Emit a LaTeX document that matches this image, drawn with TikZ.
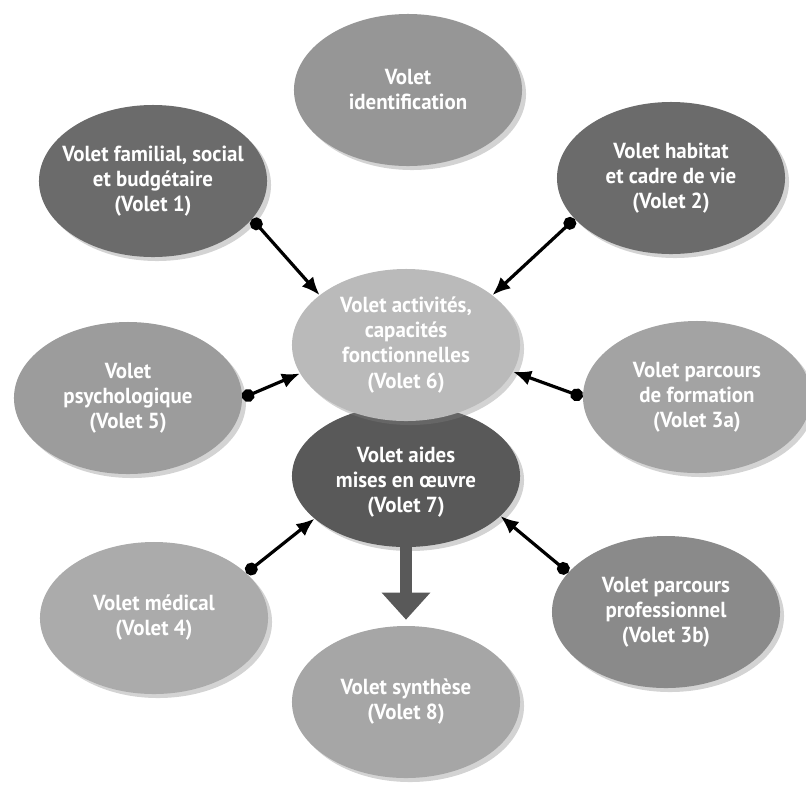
\documentclass[tikz,border=0pt]{standalone}
\usepackage{fontspec}
\setmainfont{PT Sans}[FakeStretch=0.96]
\usetikzlibrary{shapes.geometric,arrows.meta,shadows}

\begin{document}
\begin{tikzpicture}[x=0.025cm, y=-0.025cm]
    \tikzstyle{volet} = [ellipse, minimum width=5.7cm, minimum height=3.8cm, inner sep=0pt, drop shadow={shadow xshift=0.1cm, shadow yshift=-0.1cm, opacity=0.35}]
    \tikzstyle{txt} = [align=center, text=white, font=\bfseries\fontsize{15.5}{17.8}\selectfont]
    \tikzstyle{link} = [line width=0.08cm, {Circle[length=0.32cm]}-{Latex[length=0.45cm, width=0.38cm]}]
    \tikzstyle{flow} = [line width=0.32cm, draw=black!65, shorten >=0.15cm, -{Triangle[length=0.68cm, width=1.18cm]}]
    \useasboundingbox (0,0) rectangle (806,785);

    % outer ring
    \node (ident) [volet, fill=black!41, label={[txt]center:{Volet\\identification}}] at (408,90) {};
    \node (famil) [volet, fill=black!58, label={[txt]center:{Volet familial, social\\et budgétaire\\(Volet 1)}}] at (153,181) {};
    \node (habit) [volet, fill=black!58, label={[txt]center:{Volet habitat\\et cadre de vie\\(Volet 2)}}] at (671,178) {};
    \node (psych) [volet, fill=black!39, label={[txt]center:{Volet\\psychologique\\(Volet 5)}}] at (128,398) {};
    \node (forma) [volet, fill=black!36, label={[txt]center:{Volet parcours\\de formation\\(Volet 3a)}}] at (697,397) {};

    % centre
    \node (aides) [volet, fill=black!65, minimum height=3.55cm, label={[txt, yshift=-0.15cm]center:{Volet aides\\mises en œuvre\\(Volet 7)}}] at (406,476) {};
    \node (activ) [volet, fill=black!27, label={[txt]center:{Volet activités,\\capacités\\fonctionnelles\\(Volet 6)}}] at (406,345) {};

    \node (medic) [volet, fill=black!33, label={[txt]center:{Volet médical\\(Volet 4)}}] at (154,618) {};
    \node (profe) [volet, fill=black!46, label={[txt]center:{Volet parcours\\professionnel\\(Volet 3b)}}] at (666,612) {};
    \node (synth) [volet, fill=black!35, label={[txt]center:{Volet synthèse\\(Volet 8)}}] at (406,702) {};

    \draw [link] (famil.-21) -- (activ.150);
    \draw [link] (habit.-157) -- (activ.30);
    \draw [link] (psych.0) -- (activ.195);
    \draw [link] (forma.180) -- (activ.-14);
    \draw [link] (medic.26) -- (aides.205);
    \draw [link] (profe.158) -- (aides.-23);
    \draw [flow] (aides.south) -- (synth.north);
\end{tikzpicture}
\end{document}
